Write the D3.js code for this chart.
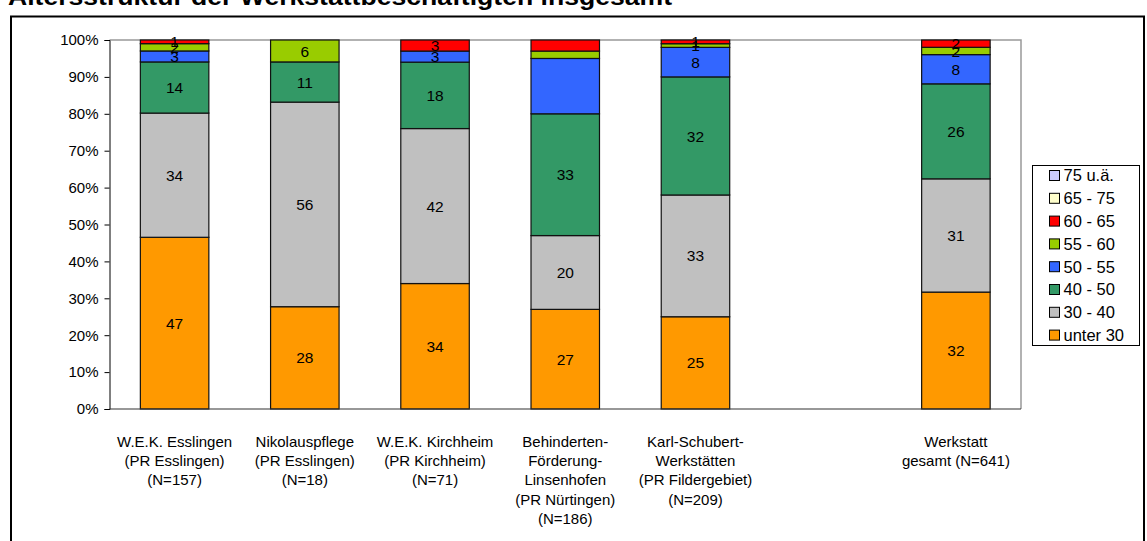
<!DOCTYPE html>
<html>
<head>
<meta charset="utf-8">
<script src="https://cdn.jsdelivr.net/npm/d3@7"></script>
<style>
  body { margin: 0; background: #fff; }
  svg { display: block; font-family: "Liberation Sans", Arial, sans-serif; }
</style>
</head>
<body>
<svg id="chart" width="1147" height="541"></svg>
<script>
// Chart data (values as shown in the data labels, stacked to 100%)
const categories = ["wek_es", "niko", "wek_ki", "bhf", "ksw", "gap", "gesamt"];
const categoryLabels = [
    ["W.E.K. Esslingen", "(PR Esslingen)", "(N=157)"],
    ["Nikolauspflege", "(PR Esslingen)", "(N=18)"],
    ["W.E.K. Kirchheim", "(PR Kirchheim)", "(N=71)"],
    ["Behinderten-", "Förderung-", "Linsenhofen", "(PR Nürtingen)", "(N=186)"],
    ["Karl-Schubert-", "Werkstätten", "(PR Fildergebiet)", "(N=209)"],
    [],
    ["Werkstatt", "gesamt (N=641)"]
];
const seriesNames = ["unter 30", "30 - 40", "40 - 50", "50 - 55", "55 - 60", "60 - 65", "65 - 75", "75 u.ä."];
const seriesColors = ["#FF9900", "#C0C0C0", "#339966", "#3366FF", "#99CC00", "#FF0000", "#FFFFCC", "#CCCCFF"];

const unter30 = [47, 28, 34, 27, 25, 0, 32];
const a30_40  = [34, 56, 42, 20, 33, 0, 31];
const a40_50  = [14, 11, 18, 33, 32, 0, 26];
const a50_55  = [3, 0, 3, 15, 8, 0, 8];
const a55_60  = [2, 6, 0, 2, 1, 0, 2];
const a60_65  = [1, 0, 3, 3, 1, 0, 2];
const a65_75  = [0, 0, 0, 0, 0, 0, 0];
const a75plus = [0, 0, 0, 0, 0, 0, 0];

// labels that are not printed in the original (category + series)
const hiddenLabels = ["bhf|50 - 55", "bhf|55 - 60", "bhf|60 - 65"];

const yTicks = [0, 0.1, 0.2, 0.3, 0.4, 0.5, 0.6, 0.7, 0.8, 0.9, 1];

const seriesValues = [unter30, a30_40, a40_50, a50_55, a55_60, a60_65, a65_75, a75plus];

// Build rows for d3.stack
const rows = categories.map((c, i) => {
    const row = { cat: c };
    seriesNames.forEach((s, j) => { row[s] = seriesValues[j][i]; });
    return row;
});

const svg = d3.select("#chart");

// Title (cut at the top edge, as in the source)
svg.append("text")
    .attr("x", 8)
    .attr("y", 5)
    .attr("font-weight", "bold")
    .attr("font-size", 24)
    .attr("textLength", 664)
    .attr("lengthAdjust", "spacingAndGlyphs")
    .text("Altersstruktur der Werkstattbeschäftigten insgesamt");

// Outer chart frame
svg.append("rect")
    .attr("x", 11)
    .attr("y", 16.5)
    .attr("width", 1133)
    .attr("height", 600)
    .attr("fill", "none")
    .attr("stroke", "#000")
    .attr("stroke-width", 2);

const plot = { left: 109.5, right: 1021, top: 40, bottom: 409 };

const x = d3.scaleBand()
    .domain(categories)
    .range([plot.left, plot.right])
    .paddingInner(0.474)
    .paddingOuter(0.237);

const y = d3.scaleLinear()
    .domain([0, 1])
    .range([plot.bottom, plot.top]);

// Plot area border (grey top/right)
svg.append("path")
    .attr("d", `M${plot.left},${plot.top}H${plot.right}V${plot.bottom}`)
    .attr("fill", "none")
    .attr("stroke", "#999")
    .attr("stroke-width", 1.5);

const stack = d3.stack()
    .keys(seriesNames)
    .offset(d3.stackOffsetExpand);
const stacked = stack(rows);

const layers = svg.append("g").selectAll("g")
    .data(stacked)
    .enter().append("g")
    .attr("fill", (d, i) => seriesColors[i]);

layers.selectAll("rect")
    .data(d => d.filter(p => p.data.cat !== "gap" && p[1] - p[0] > 0))
    .enter().append("rect")
    .attr("x", d => x(d.data.cat))
    .attr("width", x.bandwidth())
    .attr("y", d => y(d[1]))
    .attr("height", d => y(d[0]) - y(d[1]))
    .attr("stroke", "#111")
    .attr("stroke-width", 1.2);

// Data labels
const labelGroup = svg.append("g")
    .attr("font-size", 15.5)
    .attr("text-anchor", "middle")
    .attr("fill", "#000");

stacked.forEach(layer => {
    layer.forEach(p => {
        const v = p.data[layer.key];
        if (!v || p.data.cat === "gap") return;
        if (hiddenLabels.includes(p.data.cat + "|" + layer.key)) return;
        labelGroup.append("text")
            .attr("x", x(p.data.cat) + x.bandwidth() / 2)
            .attr("y", (y(p[0]) + y(p[1])) / 2)
            .attr("dy", "0.36em")
            .text(v);
    });
});

// Y axis
const yAxis = d3.axisLeft(y)
    .tickValues(yTicks)
    .tickFormat(d3.format(".0%"))
    .tickSize(5)
    .tickPadding(6);

const yG = svg.append("g")
    .attr("transform", `translate(${plot.left},0)`)
    .call(yAxis);
yG.select(".domain").attr("stroke", "#000");
yG.selectAll(".tick line").attr("stroke", "#000");
yG.selectAll(".tick text")
    .attr("font-size", 15)
    .attr("font-family", "Liberation Sans, Arial, sans-serif")
    .attr("fill", "#000");

// X axis line
svg.append("line")
    .attr("x1", plot.left)
    .attr("x2", plot.right)
    .attr("y1", plot.bottom)
    .attr("y2", plot.bottom)
    .attr("stroke", "#333")
    .attr("stroke-width", 1.2);

// X category labels
const xLab = svg.append("g")
    .attr("font-size", 15)
    .attr("text-anchor", "middle")
    .attr("fill", "#000");

categories.forEach((c, i) => {
    const t = xLab.append("text")
        .attr("x", x(c) + x.bandwidth() / 2)
        .attr("y", 447);
    categoryLabels[i].forEach((line, k) => {
        t.append("tspan")
            .attr("x", x(c) + x.bandwidth() / 2)
            .attr("dy", k === 0 ? 0 : 19.2)
            .text(line);
    });
});

// Legend
const legend = svg.append("g").attr("transform", "translate(1032.5,165.5)");
legend.append("rect")
    .attr("width", 107)
    .attr("height", 180)
    .attr("fill", "#fff")
    .attr("stroke", "#000")
    .attr("stroke-width", 1);

const legendOrder = seriesNames.map((s, i) => i).reverse();
const legendItems = legend.selectAll(".legend-item")
    .data(legendOrder)
    .enter().append("g")
    .attr("class", "legend-item")
    .attr("transform", (d, i) => `translate(0, ${10 + i * 22.8})`);

legendItems.append("rect")
    .attr("x", 17)
    .attr("y", -5)
    .attr("width", 10)
    .attr("height", 10)
    .attr("fill", d => seriesColors[d])
    .attr("stroke", "#000")
    .attr("stroke-width", 1);

legendItems.append("text")
    .attr("x", 31)
    .attr("y", 0)
    .attr("dy", "0.36em")
    .attr("font-size", 16.5)
    .text(d => seriesNames[d]);
</script>
</body>
</html>
